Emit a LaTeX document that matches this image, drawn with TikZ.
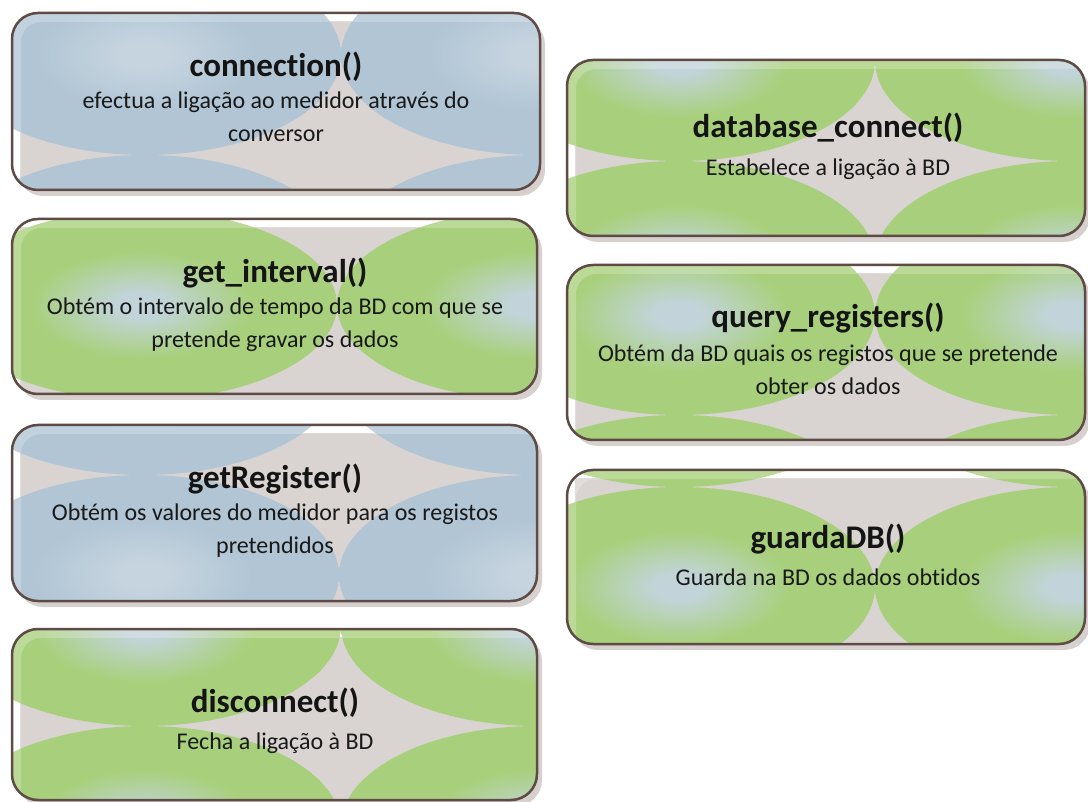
\documentclass[tikz,border=0pt]{standalone}
\usepackage{fontspec}
\setmainfont{Carlito}[Ligatures=NoCommon]
\definecolor{gedge}{HTML}{A8D07C}
\definecolor{gcen}{HTML}{C2D4DA}
\definecolor{bedge}{HTML}{B1C5D5}
\definecolor{bcen}{HTML}{C6D4DF}
\definecolor{bgrey}{HTML}{D9D4D2}
\definecolor{brd}{HTML}{5F4B45}
\definecolor{shd}{HTML}{D6D1CF}
\pgfdeclareradialshading{gspot}{\pgfpoint{0bp}{0bp}}{color(0bp)=(gcen); color(3bp)=(gcen); color(14bp)=(gedge); color(50bp)=(gedge)}
\pgfdeclareradialshading{bspot}{\pgfpoint{0bp}{0bp}}{color(0bp)=(bcen); color(3bp)=(bcen); color(14bp)=(bedge); color(50bp)=(bedge)}
\tikzset{
  ttl/.style={font=\fontsize{33}{38}\selectfont\bfseries, inner sep=0pt, anchor=base, text=black!92},
  dsc/.style={font=\fontsize{24}{30}\selectfont, inner sep=0pt, anchor=base, text=black!90},
  boxframe/.style={draw=brd, line width=2.5pt, rounded corners=26pt, inner sep=0pt, outer sep=0pt},
}
\newcommand\patbox[9]{%
  \fill[shd, rounded corners=26pt] (#1+5,#2+6) rectangle (#3+5,#4+6);
  \begin{scope}
    \clip[rounded corners=26pt] (#1,#2) rectangle (#3,#4);
    \fill[white] (#1,#2) rectangle (#3,#4);
    \fill[bgrey] (#1+8,#2+8) rectangle (#3,#4);
    \foreach \i in {-2,-1,0,1}{\foreach \j in {-2,-1,0,1}{%
      \shade[shading=#8] ({#5+196+392*\i},{#6+#7+2*#7*\j}) ellipse [x radius=196pt, y radius=#7pt];}}
    \fill[white, opacity=0.22, even odd rule, rounded corners=20pt] (#1,#2) rectangle (#3,#4) (#1+9,#2+9) rectangle (#3+40,#4+40);
  \end{scope}
  \node[boxframe, minimum width={#3-#1}, minimum height={#4-#2}] (#9) at ({(#1+#3)/2},{(#2+#4)/2}) {};
}
\begin{document}
\begin{tikzpicture}[x=1pt, y=-1pt]
\useasboundingbox[fill=white] (0,0) rectangle (1088,802);
\patbox{12}{13}{540}{190}{341}{155}{100}{bspot}{b1}
\patbox{12}{219}{537}{394}{337}{210}{95}{gspot}{b2}
\patbox{12}{425}{537}{601}{339}{475}{100}{bspot}{b3}
\patbox{12}{629}{537}{800}{341}{726}{100}{gspot}{b4}
\patbox{567}{60}{1085}{236}{875}{161}{100}{gspot}{b5}
\patbox{567}{265}{1085}{440}{875}{415}{100}{gspot}{b6}
\patbox{567}{470}{1085}{644}{875}{487}{100}{gspot}{b7}

\node[ttl] (t1) at (276,77) {connection()};
\node[dsc] (d1a) at (276,108.5) {efectua a ligação ao medidor através do};
\node[dsc] (d1b) at (276,141.5) {conversor};

\node[ttl] (t2) at (275,283) {get\_interval()};
\node[dsc] (d2a) at (275,314.5) {Obtém o intervalo de tempo da BD com que se};
\node[dsc] (d2b) at (275,347.5) {pretende gravar os dados};

\node[ttl] (t3) at (275,489) {getRegister()};
\node[dsc] (d3a) at (275,520.5) {Obtém os valores do medidor para os registos};
\node[dsc] (d3b) at (275,553.5) {pretendidos};

\node[ttl] (t4) at (275,712) {disconnect()};
\node[dsc] (d4a) at (275,749.5) {Fecha a ligação à BD};

\node[ttl] (t5) at (828,138) {database\_connect()};
\node[dsc] (d5a) at (828,176) {Estabelece a ligação à BD};

\node[ttl] (t6) at (828,328) {query\_registers()};
\node[dsc] (d6a) at (828,362) {Obtém da BD quais os registos que se pretende};
\node[dsc] (d6b) at (828,395) {obter os dados};

\node[ttl] (t7) at (828,548) {guardaDB()};
\node[dsc] (d7a) at (828,585) {Guarda na BD os dados obtidos};
\end{tikzpicture}
\end{document}
